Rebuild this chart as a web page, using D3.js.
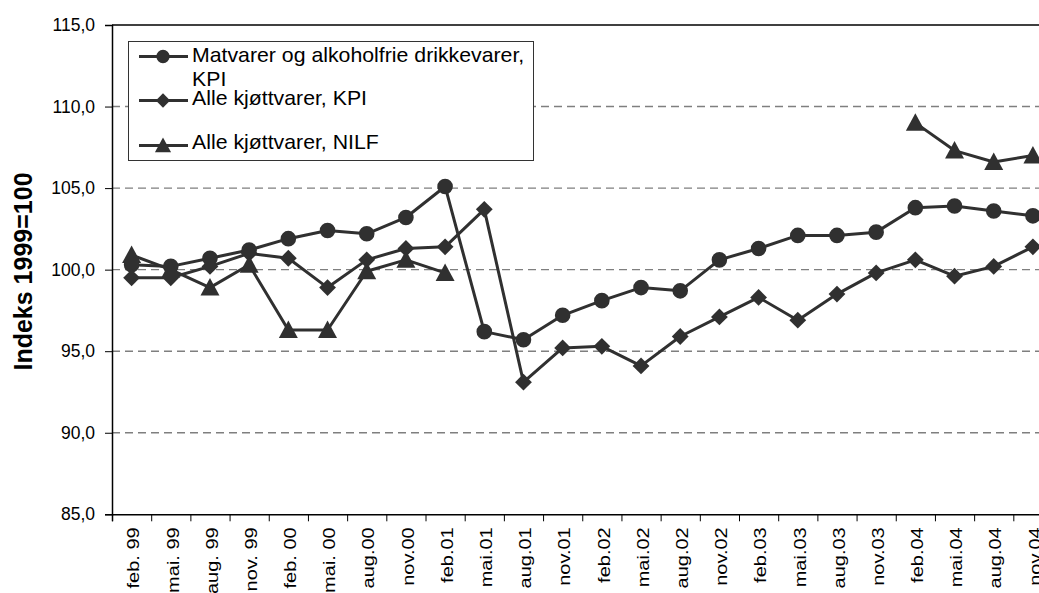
<!DOCTYPE html>
<html><head><meta charset="utf-8">
<script src="https://cdn.jsdelivr.net/npm/d3@7"></script>
<style>
html,body{margin:0;padding:0;background:#fff;overflow:hidden}
text{font-family:"Liberation Sans",Arial,sans-serif;fill:#000}
</style></head>
<body>
<svg id="chart" width="1039" height="593"></svg>
<script>
const categories = ["feb. 99","mai. 99","aug. 99","nov. 99","feb. 00","mai. 00","aug.00","nov.00","feb.01","mai.01","aug.01","nov.01","feb.02","mai.02","aug.02","nov.02","feb.03","mai.03","aug.03","nov.03","feb.04","mai.04","aug.04","nov.04"];
const matvarerKPI = [100.3,100.2,100.7,101.2,101.9,102.4,102.2,103.2,105.1,96.2,95.7,97.2,98.1,98.9,98.7,100.6,101.3,102.1,102.1,102.3,103.8,103.9,103.6,103.3];
const kjottKPI = [99.5,99.5,100.2,101.0,100.7,98.9,100.6,101.3,101.4,103.7,93.1,95.2,95.3,94.1,95.9,97.1,98.3,96.9,98.5,99.8,100.6,99.6,100.2,101.4];
const kjottNILF = [100.9,100.0,98.9,100.3,96.3,96.3,99.9,100.6,99.8,null,null,null,null,null,null,null,null,null,null,null,109.0,107.3,106.6,107.0];
const yTicks = [85,90,95,100,105,110,115];
const gridValues = [90,95,100,105,110];
const legendLabels = [["Matvarer og alkoholfrie drikkevarer,","KPI"],["Alle kjøttvarer, KPI"],["Alle kjøttvarer, NILF"]];

(function () {
const svg = d3.select("#chart");
const pLeft = 112, pRight = 1052.5, pTop = 25, pBottom = 514.3;
const x = d3.scaleBand().domain(categories).range([pLeft, pRight]);
const xi = d3.scaleLinear().domain([0, categories.length]).range([pLeft, pRight]);
const y = d3.scaleLinear().domain([85, 115]).range([pBottom, pTop]);
const ink = "#303030";
const FONT = "Liberation Sans, Arial, sans-serif";

// gridlines
svg.append("g").selectAll("line").data(gridValues).join("line")
  .attr("x1", pLeft).attr("x2", 1039).attr("y1", d => y(d)).attr("y2", d => y(d))
  .attr("stroke", "#7f7f7f").attr("stroke-width", 1.4).attr("stroke-dasharray", "8,5");

// top border
svg.append("line").attr("x1", pLeft).attr("x2", 1039).attr("y1", y(115)).attr("y2", y(115))
  .attr("stroke", "#000").attr("stroke-width", 1.5);

// y axis
const yAxis = svg.append("g").attr("transform", `translate(${pLeft},0)`)
  .call(d3.axisLeft(y).tickValues(yTicks).tickSize(7).tickPadding(10)
    .tickFormat(d => d3.format(".1f")(d).replace(".", ",")));
yAxis.select(".domain").attr("stroke", "#000").attr("stroke-width", 1.5);
yAxis.selectAll(".tick line").attr("stroke", "#000");
yAxis.selectAll("text").attr("font-size", 17.5).attr("font-family", FONT).attr("fill", "#000");

// x axis tick marks at category boundaries
const xAxisTicks = svg.append("g").attr("transform", `translate(0,${pBottom})`)
  .call(d3.axisBottom(xi).tickValues(d3.range(0, categories.length)).tickSize(7).tickFormat(""));
xAxisTicks.select(".domain").attr("stroke", "#000").attr("stroke-width", 1.5);
xAxisTicks.selectAll(".tick line").attr("stroke", "#000");

// x axis labels
const xLab = svg.append("g").attr("transform", `translate(0,${pBottom})`)
  .call(d3.axisBottom(x).tickSize(0).tickPadding(0));
xLab.select(".domain").remove();
xLab.selectAll("text")
  .attr("font-size", 16).attr("font-family", FONT).attr("fill", "#000")
  .attr("text-anchor", "end").attr("transform", "translate(2,13) rotate(-90) scale(1.25,1)")
  .attr("x", 0).attr("y", 0).attr("dy", "0.36em");

// y title
svg.append("text").attr("transform", `translate(32,271.5) rotate(-90)`)
  .attr("text-anchor", "middle").attr("font-weight", "bold").attr("font-size", 25).attr("font-family", FONT)
  .text("Indeks 1999=100");

// symbols
const circleSym = d3.symbol().type(d3.symbolCircle).size(Math.PI * 7.8 * 7.8);
const diamondType = { draw(ctx, size) { const r = 8.4; ctx.moveTo(0, -r); ctx.lineTo(r, 0); ctx.lineTo(0, r); ctx.lineTo(-r, 0); ctx.closePath(); } };
const triType = { draw(ctx, size) { ctx.moveTo(0, -9.5); ctx.lineTo(9.5, 8); ctx.lineTo(-9.5, 8); ctx.closePath(); } };
const diamondSym = d3.symbol().type(diamondType);
const triSym = d3.symbol().type(triType);

const series = [
  { vals: matvarerKPI, sym: circleSym },
  { vals: kjottKPI, sym: diamondSym },
  { vals: kjottNILF, sym: triSym }
];
const line = d3.line().defined(d => d.v != null).x(d => x(d.c) + x.bandwidth() / 2).y(d => y(d.v));
series.forEach(s => {
  const pts = categories.map((c, i) => ({ c, v: s.vals[i] }));
  const g = svg.append("g");
  g.append("path").datum(pts).attr("d", line).attr("fill", "none").attr("stroke", ink).attr("stroke-width", 3).attr("stroke-linejoin", "round");
  g.selectAll("path.m").data(pts.filter(d => d.v != null)).join("path").attr("class", "m")
    .attr("d", s.sym).attr("fill", ink)
    .attr("transform", d => `translate(${x(d.c) + x.bandwidth() / 2},${y(d.v)})`);
});

// legend
const lg = svg.append("g");
lg.append("rect").attr("x", 128.5).attr("y", 41.5).attr("width", 405).attr("height", 119)
  .attr("fill", "#fff").attr("stroke", "#333").attr("stroke-width", 1);
const legendY = [56.5, 100.5, 145.5];
const legendBase = [62, 104.5, 149];
legendLabels.forEach((lab, i) => {
  const yy = legendY[i];
  lg.append("line").attr("x1", 139).attr("x2", 188).attr("y1", yy).attr("y2", yy).attr("stroke", ink).attr("stroke-width", 3);
  lg.append("path").attr("d", series[i].sym()).attr("fill", ink).attr("transform", `translate(163,${yy}) scale(0.85)`);
  const t = lg.append("text").attr("transform", `translate(192,${legendBase[i]}) scale(1.075,1)`)
    .attr("font-size", 19.8).attr("font-family", FONT);
  lab.forEach((ln, j) => t.append("tspan").attr("x", 0).attr("dy", j === 0 ? 0 : 24).text(ln));
});
})();
</script>
</body></html>
